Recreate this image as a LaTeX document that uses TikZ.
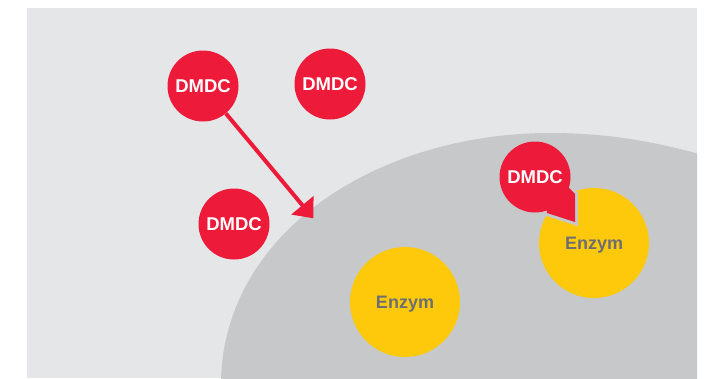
\documentclass[tikz,border=0pt]{standalone}
\usepackage{fontspec}
\setmainfont{Liberation Sans}
\usetikzlibrary{arrows.meta}
\definecolor{bglight}{HTML}{E5E6E8}
\definecolor{cellgray}{HTML}{C7C8CA}
\definecolor{dred}{HTML}{ED1A39}
\definecolor{enzy}{HTML}{FFC90B}
\definecolor{txtgray}{HTML}{6D6E71}
\begin{document}
\begin{tikzpicture}[x=1pt,y=-1pt,
  dmdc/.style={circle,fill=dred,minimum size=71pt,inner sep=0pt,text=white,
    font=\bfseries\fontsize{18.5}{18.5}\selectfont},
  enzyme/.style={circle,fill=enzy,minimum size=110pt,inner sep=0pt,text=txtgray,
    text depth=0pt,font=\bfseries\fontsize{18}{18}\selectfont},
  gap/.style={draw=cellgray,line width=6pt,line join=miter}]
\useasboundingbox (0,0) rectangle (706,378);
\fill[white] (0,0) rectangle (706,378);
\fill[bglight] (27,8) rectangle (697,378);
\begin{scope}
  \clip (27,8) rectangle (697,378);
  \fill[cellgray] (221,380) .. controls (225,230) and (380,133) .. (550,133)
    .. controls (610,133) and (660,142) .. (720,160) -- (720,392) -- (221,392) -- cycle;
\end{scope}
% free molecules
\node[dmdc] (d1) at (203,86) {DMDC};
\node[dmdc] (d2) at (330,84) {DMDC};
\node[dmdc] (d3) at (234,224) {DMDC};
\coordinate (tip) at (313.3,218.3);
\draw[dred,line width=4pt,-{Triangle[length=17pt,width=28pt]}] (d1) -- (tip);
% enzymes
\node[enzyme] (e1) at (405,302) {Enzym};
\node[enzyme] (e2) at (594,243) {Enzym};
% bound DMDC with gap outline
\draw[gap] (535,177) circle (35.5);
\draw[gap] (560,180) -- (569,188) -- (575,194) -- (575,222) -- (547,213) -- (545,195) -- cycle;
\fill[dred] (560,180) -- (569,188) -- (575,194) -- (575,222) -- (547,213) -- (545,195) -- cycle;
\node[dmdc] (d4) at (535,177) {DMDC};
\end{tikzpicture}
\end{document}
